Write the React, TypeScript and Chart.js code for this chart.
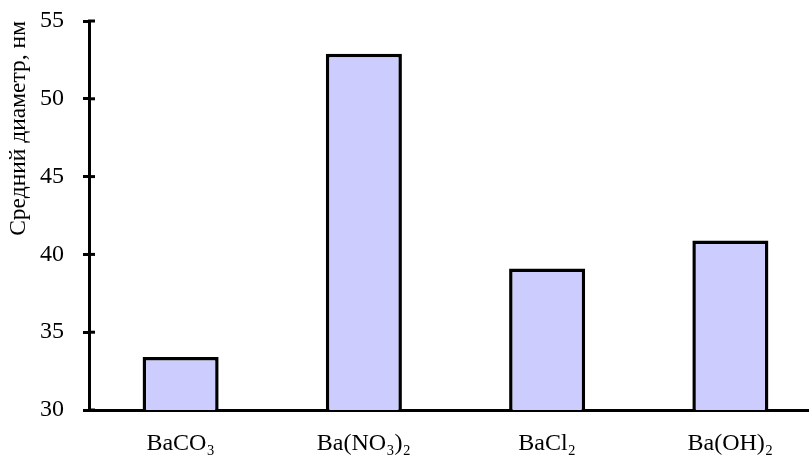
import React, { useEffect, useRef } from "react";
import { Chart, registerables } from "chart.js";

Chart.register(...registerables);

const categories = ["BaCO₃", "Ba(NO₃)₂", "BaCl₂", "Ba(OH)₂"];
const diameters = [33.4, 52.9, 39.1, 40.9];
const yMin = 30;
const yMax = 55;
const yStep = 5;
const yTitle = "Средний диаметр, нм";

const FONT = "'Liberation Serif', 'Times New Roman', serif";

const innerTicks = {
  id: "innerTicks",
  afterDraw(chart: any) {
    const y = chart.scales.y;
    const ctx = chart.ctx;
    const x0 = chart.chartArea.left;
    ctx.save();
    ctx.strokeStyle = "#000";
    ctx.lineWidth = 3;
    y.ticks.forEach((t: any) => {
      const py = y.getPixelForValue(t.value);
      ctx.beginPath();
      ctx.moveTo(x0 - 1, py);
      ctx.lineTo(x0 + 6, py);
      ctx.stroke();
    });
    ctx.restore();
  },
};

export default function App() {
  const ref = useRef<HTMLCanvasElement | null>(null);
  useEffect(() => {
    if (!ref.current) return;
    const chart = new Chart(ref.current, {
      type: "bar",
      data: {
        labels: categories,
        datasets: [
          {
            data: diameters,
            backgroundColor: "#CCCCFF",
            borderColor: "#000000",
            borderWidth: 3.5,
            borderSkipped: false,
            barPercentage: 0.415,
            categoryPercentage: 1,
          },
        ],
      },
      options: {
        animation: false,
        responsive: false,
        maintainAspectRatio: false,
        layout: { padding: { left: 0, right: 10, top: 21, bottom: 0 } },
        plugins: { legend: { display: false }, tooltip: { enabled: false } },
        scales: {
          x: {
            grid: { display: false, drawTicks: false },
            border: { display: true, color: "#000", width: 3 },
            ticks: {
              color: "#000",
              font: { family: FONT, size: 24 },
              padding: 19,
              maxRotation: 0,
              autoSkip: false,
            },
            afterFit(scale: any) {
              scale.height = 48;
              scale.paddingLeft = 0;
              scale.paddingRight = 0;
            },
          },
          y: {
            min: yMin,
            max: yMax,
            grid: {
              display: true,
              drawOnChartArea: false,
              drawTicks: true,
              tickLength: 6,
              color: "#000",
              lineWidth: 3,
            },
            border: { display: true, color: "#000", width: 3 },
            ticks: {
              stepSize: yStep,
              color: "#000",
              font: { family: FONT, size: 24 },
              padding: 19,
            },
            title: {
              display: true,
              text: yTitle,
              align: "end",
              color: "#000",
              font: { family: FONT, size: 23.5 },
              padding: { top: 5, bottom: 0 },
            },
            afterFit(scale: any) {
              scale.width = 89;
              scale.paddingTop = 0;
              scale.paddingBottom = 0;
            },
          },
        },
      },
      plugins: [innerTicks],
    });
    return () => chart.destroy();
  }, []);
  return (
    <div
      style={{
        position: "fixed",
        left: 0,
        top: 0,
        width: 809,
        height: 458,
        overflow: "hidden",
        background: "#fff",
      }}
    >
      <canvas ref={ref} width={832} height={458} style={{ display: "block" }} />
    </div>
  );
}
